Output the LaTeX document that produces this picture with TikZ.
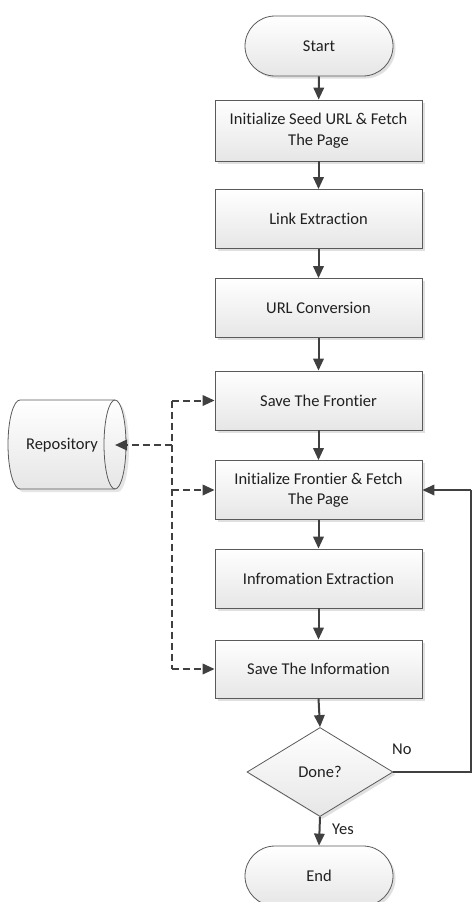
\documentclass[tikz,border=0pt]{standalone}
\usepackage{fontspec}
\setmainfont{Carlito}[Ligatures=NoCommon]
\usetikzlibrary{arrows.meta,shapes.geometric,shadows}

\definecolor{edge}{HTML}{5A5A5A}
\definecolor{wire}{HTML}{404040}
\definecolor{lowfill}{HTML}{E6E6E6}
\definecolor{ink}{HTML}{202020}

\tikzset{
  base/.style={draw=edge, line width=0.8pt, top color=white, bottom color=lowfill,
    text=ink, font=\fontsize{16.5}{20.5}\selectfont,
    drop shadow={shadow xshift=2.5pt, shadow yshift=-2.5pt, fill=black, opacity=0.12}},
  stepbox/.style={base, rectangle, minimum width=207pt, minimum height=59pt,
    align=center, inner sep=0pt},
  term/.style={base, rectangle, rounded corners=30pt, minimum width=148pt,
    minimum height=60pt, inner sep=0pt},
  decide/.style={base, diamond, minimum width=146pt, minimum height=89pt, inner sep=0pt},
  lbl/.style={text=ink, font=\fontsize{16.5}{20}\selectfont, inner sep=0pt, anchor=west},
  arr/.style={draw=wire, line width=2pt, -{Triangle[length=12pt,width=10.5pt]}},
  plain/.style={draw=wire, line width=2pt},
  dasharr/.style={draw=wire, line width=2pt, dash pattern=on 7pt off 4pt,
    -{Triangle[length=12pt,width=10.5pt]}},
  dashline/.style={draw=wire, line width=2pt, dash pattern=on 7pt off 4pt},
}

\begin{document}
\begin{tikzpicture}[x=1pt, y=-1pt]
\useasboundingbox (0,0) rectangle (473,902);

% main column
\node[term] (start) at (319,46) {Start};
\node[stepbox, minimum height=61pt] (seed) at (318.5,130.5) {Initialize Seed URL \& Fetch\\The Page};
\node[stepbox] (link) at (318.5,219) {Link Extraction};
\node[stepbox] (conv) at (318.5,308) {URL Conversion};
\node[stepbox] (front) at (318.5,400.5) {Save The Frontier};
\node[stepbox] (initf) at (318.5,490) {Initialize Frontier \& Fetch\\The Page};
\node[stepbox] (extr) at (318.5,578.5) {Infromation Extraction};
\node[stepbox, minimum height=58pt] (save) at (318.5,669) {Save The Information};
\node[decide] (done) at (320,772) {Done?};
\node[term] (finish) at (319,876) {End};

% repository (horizontal storage drum)
\fill[black, opacity=0.10] (23,403) -- (118,403) arc[start angle=-90, end angle=90, x radius=11, y radius=44.5]
  -- (23,492) arc[start angle=90, end angle=270, x radius=12, y radius=44.5] -- cycle;
\path[draw=edge, line width=0.8pt, top color=white, bottom color=lowfill]
  (20,400) -- (115,400) arc[start angle=-90, end angle=90, x radius=11, y radius=44.5]
  -- (20,489) arc[start angle=90, end angle=270, x radius=12, y radius=44.5] -- cycle;
\draw[edge, line width=0.8pt] (115,400) arc[start angle=-90, end angle=-270, x radius=11, y radius=44.5];
\node[text=ink, font=\fontsize{16.5}{20}\selectfont, inner sep=0pt] (repo) at (62,445) {Repository};
\coordinate (repoin) at (115,445);

% solid flow
\draw[arr] (start) -- (seed);
\draw[arr] (seed) -- (link);
\draw[arr] (link) -- (conv);
\draw[arr] (conv) -- (front);
\draw[arr] (front) -- (initf);
\draw[arr] (initf) -- (extr);
\draw[arr] (extr) -- (save);
\draw[arr] (save.south) -- (done.north);
\draw[arr] (done.south) -- (finish.north);

% loop back when not done
\coordinate (loopx) at (471,0);
\draw[plain] (done.east) -- (loopx |- done.east) -- (loopx |- initf.east);
\draw[arr] (loopx |- initf.east) -- (initf.east);

% dashed links to the repository
\coordinate (busx) at (172,0);
\draw[dashline] (busx |- front.west) -- (busx |- save.west);
\draw[dasharr] (busx |- front.west) -- (front.west);
\draw[dasharr] (busx |- initf.west) -- (initf.west);
\draw[dasharr] (busx |- save.west) -- (save.west);
\draw[dasharr] (busx |- repoin) -- (repoin);

% branch labels
\node[lbl] (nolbl) at (392,749) {No};
\node[lbl] (yeslbl) at (332,829) {Yes};
\end{tikzpicture}
\end{document}
